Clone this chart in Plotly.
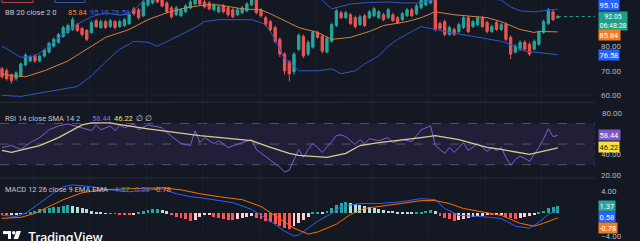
import plotly.graph_objects as go

W, H = 640, 241
BG = '#141823'
PLOT_R = 595  # right edge of plotting area in px

# ---------------- data ----------------
OPEN = [70.8, 70.0, 68.4, 66.8, 68.0, 72.4, 74.0, 76.0, 74.0, 76.0,
        77.6, 80.0, 81.6, 84.0, 85.6, 86.8, 88.8, 87.2, 86.4, 85.6,
        90.4, 87.6, 90.0, 88.0, 90.0, 88.0, 88.4, 89.2, 95.2, 94.8,
        92.4, 96.8, 97.6, 101.2, 98.8, 97.6, 95.6, 92.8, 92.4, 94.0,
        95.6, 97.2, 99.6, 98.0, 97.6, 94.8, 94.0, 96.4, 95.6, 94.8,
        92.8, 93.6, 94.4, 96.8, 98.8, 94.8, 91.6, 90.0, 87.6, 82.8,
        76.8, 73.6, 69.6, 78.8, 84.0, 76.8, 79.6, 85.6, 84.0, 77.6,
        82.0, 88.4, 93.6, 91.6, 92.8, 91.6, 88.8, 92.4, 91.6, 92.4,
        91.6, 92.8, 91.6, 92.8, 91.6, 90.8, 92.4, 94.8, 93.2, 95.6,
        96.8, 97.6, 100.4, 89.2, 90.0, 84.8, 86.8, 86.0, 87.6, 91.6,
        88.0, 88.8, 91.6, 89.6, 86.0, 89.6, 86.8, 88.8, 83.6, 77.6,
        78.8, 81.6, 80.8, 78.8, 80.8, 85.6, 89.2, 94.0, 91.6]
CLOSE = [67.6, 66.8, 66.0, 69.2, 72.8, 76.4, 75.6, 74.0, 76.0, 78.4,
         81.2, 82.8, 84.8, 87.6, 88.4, 90.8, 86.4, 84.8, 82.8, 89.6,
         88.0, 90.0, 87.6, 90.4, 87.6, 90.0, 90.8, 92.8, 93.2, 91.6,
         98.0, 100.8, 100.8, 98.0, 96.4, 94.0, 92.0, 95.6, 94.8, 96.4,
         98.0, 100.0, 97.2, 96.0, 95.2, 96.8, 96.0, 94.0, 92.8, 92.0,
         94.8, 95.6, 97.2, 99.6, 93.6, 92.4, 88.8, 86.8, 82.0, 76.8,
         70.0, 68.8, 76.8, 84.4, 76.0, 81.6, 85.6, 83.6, 78.0, 83.2,
         88.8, 94.4, 91.6, 93.6, 89.2, 88.0, 92.0, 88.4, 94.0, 95.2,
         94.0, 90.8, 94.8, 90.4, 89.6, 93.2, 94.8, 92.4, 96.4, 98.8,
         99.6, 100.4, 86.8, 87.2, 84.8, 87.6, 84.8, 88.8, 91.6, 86.0,
         90.0, 91.6, 88.0, 86.0, 88.0, 86.8, 88.8, 82.8, 76.8, 80.0,
         81.6, 78.8, 76.8, 82.0, 85.6, 90.0, 94.8, 90.8, 92.05]
HIGH = [71.6, 71.0, 69.0, 69.8, 73.4, 77.2, 76.4, 76.8, 76.6, 79.0,
        81.8, 83.6, 85.4, 88.4, 89.2, 91.8, 89.6, 88.0, 87.0, 90.4,
        91.2, 90.8, 90.8, 91.2, 90.6, 90.8, 91.6, 93.6, 96.0, 95.6,
        99.0, 101.6, 101.6, 102.0, 99.6, 98.4, 96.4, 96.4, 95.6, 97.2,
        98.8, 100.8, 100.4, 98.8, 98.4, 97.6, 96.8, 97.2, 96.4, 95.6,
        95.6, 96.4, 98.0, 100.4, 99.6, 95.6, 92.4, 90.8, 88.4, 83.6,
        77.6, 74.4, 77.6, 85.2, 84.8, 82.4, 86.4, 86.4, 84.8, 84.0,
        89.6, 95.2, 94.4, 94.4, 93.6, 92.4, 92.8, 93.2, 94.8, 96.0,
        94.8, 93.6, 95.6, 93.6, 92.4, 94.0, 95.6, 95.6, 97.2, 99.6,
        100.4, 101.2, 101.6, 90.0, 90.8, 88.4, 87.6, 89.6, 92.4, 92.4,
        90.8, 92.4, 92.4, 90.4, 88.8, 90.4, 89.6, 89.6, 84.4, 80.8,
        82.4, 82.4, 81.6, 82.8, 86.4, 90.8, 95.6, 95.0, 92.8]
LOW = [66.8, 66.0, 64.8, 66.0, 67.4, 71.8, 73.4, 73.2, 73.4, 75.4,
       77.0, 79.4, 81.0, 83.4, 85.0, 86.2, 85.8, 84.0, 82.0, 85.0,
       87.4, 87.0, 87.0, 87.4, 86.8, 87.4, 87.8, 88.6, 92.4, 90.8,
       91.8, 96.0, 97.0, 97.4, 95.8, 93.4, 91.2, 92.2, 91.8, 93.4,
       95.0, 96.6, 96.6, 95.4, 94.6, 94.2, 93.4, 93.4, 92.0, 91.4,
       92.2, 93.0, 93.8, 96.2, 93.0, 91.6, 88.0, 86.0, 81.2, 75.6,
       68.4, 65.6, 68.4, 78.0, 75.2, 76.0, 79.0, 83.0, 77.2, 77.0,
       81.4, 87.8, 91.0, 91.0, 88.6, 87.2, 88.2, 87.8, 91.0, 91.8,
       91.0, 90.2, 91.0, 89.8, 89.0, 90.2, 91.8, 91.8, 92.6, 95.0,
       96.2, 97.0, 86.0, 86.6, 84.0, 84.2, 84.2, 85.4, 87.0, 85.2,
       87.4, 88.2, 87.4, 85.2, 85.4, 86.2, 86.2, 82.0, 74.8, 77.0,
       78.0, 78.0, 76.0, 78.2, 80.2, 85.0, 88.6, 90.2, 91.2]
IDX = list(range(len(CLOSE)))

BB_UPPER_X = [0, 4, 7, 10, 13, 16, 19, 22, 25, 27, 31, 36, 41, 46, 53, 58, 60, 63, 67, 70,
              74, 78, 82, 85, 89, 92, 96, 100, 104, 106, 108, 110, 113, 118]
BB_UPPER = [80.0, 75.5, 76.0, 80.0, 84.8, 89.0, 92.0, 93.6, 92.6, 93.2, 100.0, 105.0, 104.8,
            102.8, 99.8, 101.8, 106.0, 105.2, 100.4, 95.2, 97.2, 97.8, 98.0, 97.6, 97.6, 99.2,
            100.0, 99.6, 99.2, 98.8, 96.0, 94.4, 94.0, 95.10]
BB_MID_X = [0, 2, 5, 9, 14, 18, 22, 27, 31, 35, 39, 43, 46, 51, 55, 57, 60, 63, 67, 70,
            74, 78, 81, 86, 89, 92, 96, 103, 106, 110, 113, 114, 118]
BB_MID = [68.8, 68.0, 67.6, 70.0, 74.0, 78.8, 83.6, 86.8, 90.8, 93.6, 95.6, 96.8, 96.8, 95.2,
          94.8, 93.2, 90.4, 87.6, 85.6, 82.8, 83.6, 86.0, 88.4, 90.0, 91.6, 94.0, 92.8, 91.6,
          90.0, 86.8, 85.6, 86.0, 85.84]
BB_LOW_X = [0, 4, 16, 19, 22, 25, 27, 28, 31, 33, 36, 41, 43, 46, 53, 56, 58, 60, 62, 63,
            67, 70, 72, 75, 77, 80, 82, 84, 89, 95, 100, 106, 109, 111, 118]
BB_LOW = [60.0, 59.6, 63.6, 68.0, 73.6, 78.8, 80.8, 82.0, 81.6, 80.0, 82.8, 87.6, 90.0, 90.8,
          90.8, 88.8, 82.8, 74.8, 72.0, 70.0, 70.0, 70.8, 68.8, 70.0, 72.8, 76.0, 80.0, 82.8,
          88.0, 85.6, 84.0, 82.0, 80.0, 78.0, 76.58]

RSI_X = [0, 2, 4, 6, 8, 10, 12, 14, 17, 19, 20, 21, 23, 24, 25, 26, 28, 29, 31, 34,
         35, 37, 38, 40, 41, 42, 43, 45, 46, 48, 51, 53, 54, 55, 57, 59, 60, 61, 62, 63,
         64, 65, 66, 67, 68, 69, 70, 71, 72, 73, 74, 75, 76, 77, 78, 80, 82, 83, 85, 87,
         88, 89, 90, 91, 92, 93, 94, 95, 96, 97, 98, 99, 100, 101, 102, 103, 104, 105, 106, 107,
         108, 109, 110, 111, 112, 113, 114, 115, 116, 117, 118]
RSI = [46.7, 48.6, 44.8, 51.4, 56.2, 63.8, 67.6, 69.5, 65.7, 62.9,
       68.6, 63.8, 67.6, 62.9, 68.6, 65.7, 69.5, 63.8, 68.6, 65.7,
       61.0, 54.3, 50.5, 48.6, 62.9, 51.4, 56.2, 50.5, 53.3, 46.7,
       51.4, 54.3, 44.8, 41.0, 34.3, 27.6, 22.9, 24.8, 34.3, 44.8,
       37.1, 44.8, 50.5, 46.7, 41.9, 46.7, 52.4, 58.1, 59.0, 57.1,
       53.3, 49.5, 54.3, 50.5, 55.2, 53.3, 56.2, 51.4, 54.3, 52.4,
       58.1, 63.8, 65.7, 67.6, 48.6, 44.8, 41.0, 46.7, 41.9, 46.7,
       51.4, 43.8, 47.6, 50.5, 46.7, 42.9, 46.7, 43.8, 46.7, 37.1,
       29.5, 35.2, 38.1, 36.2, 33.3, 40.0, 46.7, 55.2, 64.8, 57.1,
       58.44]
RSI_MA_X = [0, 2, 8, 12, 17, 19, 23, 24, 31, 42, 53, 57, 61, 63, 69, 73, 76, 80, 89, 92,
            97, 103, 106, 112, 118]
RSI_MA = [43.8, 41.9, 48.6, 56.2, 68.6, 70.5, 70.5, 69.5, 64.8, 58.1, 53.3, 46.7, 41.0, 39.0,
          37.1, 41.0, 48.6, 51.4, 56.2, 58.1, 54.3, 46.7, 44.8, 40.0, 46.22]
RSI_LEVELS = [70, 50, 30]

MACD_X = [0, 3, 5, 7, 9, 11, 13, 15, 19, 23, 27, 34, 37, 40, 42, 45, 49, 53, 57, 60,
          62, 63, 65, 67, 70, 72, 76, 80, 85, 89, 92, 94, 97, 101, 106, 109, 112, 114, 116, 118]
MACD = [-0.35, -0.52, 0.0, 1.22, 2.43, 3.65, 4.70, 5.04, 4.70, 4.17, 3.83, 4.35, 3.48, 2.96,
        2.78, 2.43, 1.91, 0.70, -1.39, -3.13, -4.0, -3.83, -2.61, -1.39, 0.0, 1.22, 1.74, 1.74,
        2.09, 2.61, 2.43, 0.87, -0.35, -0.52, -0.87, -2.26, -2.61, -1.57, -0.17, 0.58]
SIGNAL_X = [0, 4, 7, 10, 13, 17, 21, 27, 34, 38, 42, 46, 51, 55, 59, 62, 65, 67, 71, 74,
            77, 80, 85, 89, 92, 95, 98, 103, 106, 110, 113, 115, 118]
SIGNAL = [-0.87, -0.70, 0.0, 1.22, 2.43, 3.65, 4.17, 4.35, 4.52, 4.17, 3.48, 2.96, 2.43, 1.22,
          -1.04, -2.61, -3.65, -3.30, -1.91, -0.17, 0.87, 1.22, 1.74, 2.26, 2.26, 1.74, 0.87,
          0.17, -0.35, -1.74, -2.26, -1.74, -0.78]
HIST = [-0.3, -0.35, -0.3, -0.2, -0.1, 0.05, 0.3, 0.5, 0.7, 0.8,
        0.95, 1.05, 1.15, 1.3, 1.4, 1.35, 1.2, 0.95, 0.7, 0.35,
        0.2, 0.1, 0.05, -0.05, -0.1, -0.15, -0.2, -0.25, -0.15, 0.1,
        0.35, 0.55, 0.7, 0.75, 0.6, 0.35, -0.3, -0.55, -0.8, -1.05,
        -1.3, -1.1, -0.7, -0.35, -0.2, -0.55, -0.8, -1.0, -1.15, -1.25,
        -1.0, -0.8, -0.6, -0.45, -0.75, -1.0, -1.3, -1.6, -1.9, -2.2,
        -2.5, -2.75, -2.3, -1.7, -1.2, -0.6, 0.15, 0.25, 0.2, 0.4,
        0.9, 1.4, 1.8, 2.1, 1.9, 1.6, 1.45, 1.25, 1.05, 0.9,
        0.75, 0.6, 0.5, 0.4, 0.3, 0.2, 0.12, 0.08, 0.15, 0.3,
        0.45, 0.55, 0.35, -0.4, -0.8, -1.05, -1.3, -1.1, -0.9, -0.8,
        -0.65, -0.5, -0.4, -0.3, -0.35, -0.3, -0.25, -0.55, -0.85, -1.05,
        -0.85, -0.6, -0.45, -0.2, 0.1, 0.5, 0.9, 1.2, 1.37]

MAIN_TICKS = [60, 70, 80]
RSI_TICKS = [20, 40]
RSI_TOP_TICK = 80
MACD_TICKS = [-4, 4]
CLOCK = "06:48:28"

# ---------------- colours ----------------
UP, DOWN = '#26a69a', '#ef5350'
BLUE, ORANGE, PURPLE, YELLOW = '#2962ff', '#ff6d00', '#7e57c2', '#f5e33b'
TXT = '#b2b5be'


def hist_colors(vals):
    cols = []
    prev = 0.0
    for v in vals:
        if v >= 0:
            cols.append('#26a69a' if v >= prev else '#b2dfdb')
        else:
            cols.append('#ff5252' if v <= prev else '#ffcdd2')
        prev = v
    return cols


def px_x(x):
    return x / W


def px_y(y):
    return 1 - y / H


fig = go.Figure()

# Bollinger bands
fig.add_trace(go.Scatter(x=BB_UPPER_X, y=BB_UPPER, mode='lines', line=dict(color='#2f57cc', width=1),
                         xaxis='x', yaxis='y', hoverinfo='skip'))
fig.add_trace(go.Scatter(x=BB_LOW_X, y=BB_LOW, mode='lines', line=dict(color='#2f57cc', width=1),
                         xaxis='x', yaxis='y', hoverinfo='skip'))
fig.add_trace(go.Scatter(x=BB_MID_X, y=BB_MID, mode='lines', line=dict(color='#d9803d', width=1),
                         xaxis='x', yaxis='y', hoverinfo='skip'))
# candles
fig.add_trace(go.Candlestick(x=IDX, open=OPEN, high=HIGH, low=LOW, close=CLOSE,
                             increasing=dict(line=dict(color=UP, width=1), fillcolor=UP),
                             decreasing=dict(line=dict(color=DOWN, width=1), fillcolor=DOWN),
                             whiskerwidth=0, xaxis='x', yaxis='y', hoverinfo='skip'))
# RSI
fig.add_trace(go.Scatter(x=RSI_X, y=RSI, mode='lines', line=dict(color='#7e5fd0', width=1),
                         xaxis='x2', yaxis='y2', hoverinfo='skip'))
fig.add_trace(go.Scatter(x=RSI_MA_X, y=RSI_MA, mode='lines', line=dict(color='#d8cb92', width=1.3),
                         xaxis='x2', yaxis='y2', hoverinfo='skip'))
# MACD
fig.add_trace(go.Bar(x=IDX, y=HIST, marker=dict(color=hist_colors(HIST), line=dict(width=0)),
                     width=0.62, xaxis='x3', yaxis='y3', hoverinfo='skip'))
fig.add_trace(go.Scatter(x=MACD_X, y=MACD, mode='lines', line=dict(color=BLUE, width=1),
                         xaxis='x3', yaxis='y3', hoverinfo='skip'))
fig.add_trace(go.Scatter(x=SIGNAL_X, y=SIGNAL, mode='lines', line=dict(color=ORANGE, width=1),
                         xaxis='x3', yaxis='y3', hoverinfo='skip'))

dom_r = PLOT_R / W
xr = [-0.42, -0.42 + PLOT_R / 4.71]
xcommon = dict(domain=[0, dom_r], showticklabels=False, showgrid=True, gridcolor='#1b1f2c',
               gridwidth=1, tick0=6.6, dtick=12, zeroline=False, showline=False, ticks='')
ycommon = dict(side='right', showgrid=True, gridcolor='#191d29', zeroline=False, showline=False,
               ticks='', tickformat='.2f', ticklabelstandoff=5, ticklabeloverflow='allow',
               tickfont=dict(family='Roboto', size=8, color=TXT), fixedrange=True)

fig.update_layout(
    width=W, height=H, margin=dict(l=0, r=0, t=0, b=0),
    paper_bgcolor=BG, plot_bgcolor=BG, showlegend=False, bargap=0,
    xaxis=dict(xcommon, range=xr, anchor='y', rangeslider=dict(visible=False)),
    xaxis2=dict(xcommon, matches='x', anchor='y2'),
    xaxis3=dict(xcommon, matches='x', anchor='y3'),
    yaxis=dict(ycommon, domain=[px_y(104), 1], range=[57.2, 98.8], tickvals=MAIN_TICKS),
    yaxis2=dict(ycommon, domain=[px_y(181), px_y(104)], range=[17.14, 90.48], tickvals=RSI_TICKS,
                showgrid=False),
    yaxis3=dict(ycommon, domain=[0, px_y(181)], range=[-4.17, 6.26], tickvals=MACD_TICKS,
                showgrid=False),
)

shapes = []
# RSI band + levels
shapes.append(dict(type='rect', xref='x2 domain', yref='y2', x0=0, x1=1, y0=RSI_LEVELS[2],
                   y1=RSI_LEVELS[0], fillcolor='rgba(126,87,194,0.13)', line=dict(width=0), layer='below'))
for lv in RSI_LEVELS:
    shapes.append(dict(type='line', xref='x2 domain', yref='y2', x0=0, x1=1, y0=lv, y1=lv,
                       line=dict(color='rgba(120,123,134,0.6)', width=1, dash='dash'), layer='below'))
# pane separators
for ypx in (104, 181):
    shapes.append(dict(type='line', xref='paper', yref='paper', x0=0, x1=dom_r, y0=px_y(ypx), y1=px_y(ypx),
                       line=dict(color='#2a2e39', width=1)))
# last price line
shapes.append(dict(type='line', xref='x', yref='y', x0=IDX[-1], x1=xr[1], y0=CLOSE[-1], y1=CLOSE[-1],
                   line=dict(color=UP, width=1, dash='dot')))
# cropped legend buttons at top
shapes.append(dict(type='rect', xref='paper', yref='paper', x0=px_x(2), x1=px_x(33), y0=px_y(2.5), y1=px_y(-5),
                   line=dict(color='#b8434a', width=1)))
shapes.append(dict(type='rect', xref='paper', yref='paper', x0=px_x(55), x1=px_x(85), y0=px_y(2.5), y1=px_y(-5),
                   line=dict(color='#3a55b5', width=1)))
# TradingView logo (partially visible)
shapes.append(dict(type='rect', xref='paper', yref='paper', x0=px_x(3), x1=px_x(11), y0=px_y(238), y1=px_y(235),
                   fillcolor='white', line=dict(width=0)))
shapes.append(dict(type='rect', xref='paper', yref='paper', x0=px_x(8), x1=px_x(11), y0=px_y(243), y1=px_y(235),
                   fillcolor='white', line=dict(width=0)))
shapes.append(dict(type='circle', xref='paper', yref='paper', x0=px_x(12), x1=px_x(15.5), y0=px_y(238.5), y1=px_y(235),
                   fillcolor='white', line=dict(width=0)))
shapes.append(dict(type='path', xref='paper', yref='paper',
                   path=f"M {px_x(16.5)} {px_y(235)} L {px_x(21)} {px_y(235)} L {px_x(18)} {px_y(243)} L {px_x(13.5)} {px_y(243)} Z",
                   fillcolor='white', line=dict(width=0)))
fig.update_layout(shapes=shapes)

ann = []


def label(txt, x, y, color, size=7.5):
    ann.append(dict(text=txt, xref='paper', yref='paper', x=px_x(x), y=px_y(y), xanchor='left',
                    yanchor='middle', showarrow=False, font=dict(family='Roboto', size=size, color=color)))


def box(txt, ycenter, bg, fg='white', size=7.5):
    ann.append(dict(text=txt, xref='paper', yref='paper', x=px_x(598), y=px_y(ycenter), xanchor='left',
                    yanchor='middle', showarrow=False, bgcolor=bg, borderpad=0.5,
                    font=dict(family='Roboto', size=size, color=fg)))


label('BB 20 close 2 0', 3, 12.5, '#c3c6ce')
label(f'{BB_MID[-1]:.2f}', 66, 12.5, '#f08a35')
label(f'{BB_UPPER[-1]:.2f}', 88, 12.5, '#3d63d6')
label(f'{BB_LOW[-1]:.2f}', 109, 12.5, '#3d63d6')

label('RSI 14 close SMA 14 2', 3, 120.5, '#c3c6ce')
label(f'{RSI[-1]:.2f}', 90, 120.5, '#8a6ad6')
label(f'{RSI_MA[-1]:.2f}', 112, 120.5, '#efe05a')
label('∅ ∅', 134, 120.5, '#d1d4dc')

label('MACD 12 26 close 9 EMA EMA', 3, 193, '#c3c6ce')
label(f'{HIST[-1]:.2f}', 113, 193, '#26a69a')
label(f'{MACD[-1]:.2f}', 133, 193, '#3d63d6')
label(f'{SIGNAL[-1]:.2f}', 152, 193, '#f08a35')

# RSI top scale label (kept as a text tied to the RSI axis value)
ann.append(dict(text=f'{RSI_TOP_TICK:.2f}', xref='paper', yref='y2', x=px_x(599.5), y=RSI_TOP_TICK,
                xanchor='left', yanchor='middle', showarrow=False,
                font=dict(family='Roboto', size=8, color=TXT)))

box(f'{BB_UPPER[-1]:.2f}', 5.5, BLUE)
box(f'{CLOSE[-1]:.2f}<br>{CLOCK}', 21, '#1f9e89', size=7)
box(f'{BB_MID[-1]:.2f}', 36, '#f57c1f')
box(f'{BB_LOW[-1]:.2f}', 55.5, BLUE)
box(f'{RSI[-1]:.2f}', 137.5, PURPLE)
box(f'{RSI_MA[-1]:.2f}', 149.5, YELLOW, fg='#131722')
box(f'{HIST[-1]:.2f}', 209, '#26a69a')
box(f'{MACD[-1]:.2f}', 220.5, BLUE)
box(f'{SIGNAL[-1]:.2f}', 231.5, '#f57c1f')

# watermark
ann.append(dict(text='TradingView', xref='paper', yref='paper', x=px_x(26), y=px_y(231.5), xanchor='left',
                yanchor='top', showarrow=False, font=dict(family='Inter', size=12.5, color='white', weight=500)))

fig.update_layout(annotations=ann)

fig.write_html('out.html')
